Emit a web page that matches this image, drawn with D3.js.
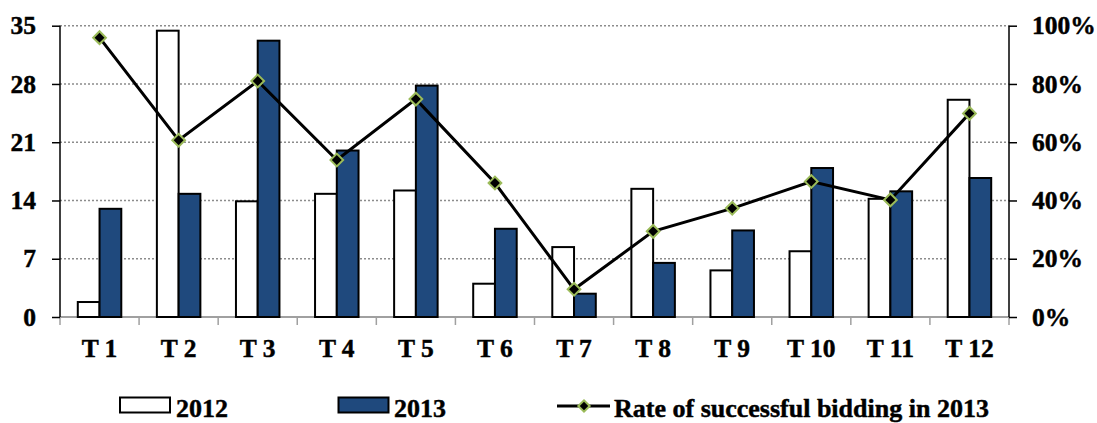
<!DOCTYPE html>
<html>
<head>
<meta charset="utf-8">
<script src="https://cdn.jsdelivr.net/npm/d3@7"></script>
<style>
  html, body { margin: 0; padding: 0; background: #fff; }
  svg { display: block; }
  text { font-family: "Liberation Serif", "Times New Roman", serif; font-weight: bold; fill: #000; stroke: #000; stroke-width: 0.45px; }
</style>
</head>
<body>
<svg id="chart" width="1097" height="423"></svg>
<script>
const categories = ["T 1","T 2","T 3","T 4","T 5","T 6","T 7","T 8","T 9","T 10","T 11","T 12"];
const values2012 = [1.8, 34.4, 13.9, 14.8, 15.2, 4.0, 8.4, 15.4, 5.6, 7.9, 14.2, 26.1];
const values2013 = [13.0, 14.8, 33.2, 20.0, 27.8, 10.6, 2.8, 6.5, 10.4, 17.9, 15.1, 16.7];
const rate2013 = [0.959, 0.607, 0.810, 0.539, 0.748, 0.460, 0.095, 0.294, 0.373, 0.465, 0.402, 0.699];
const leftTicks = [0, 7, 14, 21, 28, 35];
const rightTicks = [0, 0.2, 0.4, 0.6, 0.8, 1.0];
const seriesNames = ["2012", "2013", "Rate of successful bidding in 2013"];

const svg = d3.select("#chart");
const L = 60, R = 1009, T = 25.7, B = 317;
const blue = "#1F497D", green = "#9BBB59", gridCol = "#8c8c8c";

const x = d3.scaleBand().domain(categories).range([L, R]).padding(0);
const y = d3.scaleLinear().domain([0, 35]).range([B, T]);
const yR = d3.scaleLinear().domain([0, 1]).range([B, T]);
const bw = x.bandwidth() * 0.275;
const cx = c => x(c) + x.bandwidth() / 2;

// gridlines
svg.append("g").selectAll("line").data(leftTicks.filter(d => d > 0)).join("line")
  .attr("x1", L).attr("x2", R).attr("y1", d => y(d)).attr("y2", d => y(d))
  .attr("stroke", gridCol).attr("stroke-width", 1.5).attr("stroke-dasharray", "2,2");

// bottom axis (gray)
svg.append("line").attr("x1", L).attr("x2", R).attr("y1", B).attr("y2", B)
  .attr("stroke", "#a0a0a0").attr("stroke-width", 2);
svg.append("g").selectAll("line").data(categories.concat(["__end"])).join("line")
  .attr("x1", (d, i) => i < categories.length ? x(d) : R)
  .attr("x2", (d, i) => i < categories.length ? x(d) : R)
  .attr("y1", B).attr("y2", B + 8)
  .attr("stroke", "#a0a0a0").attr("stroke-width", 1.5);
svg.append("g").selectAll("text").data(categories).join("text")
  .attr("x", d => cx(d)).attr("y", 356.5).attr("text-anchor", "middle")
  .attr("font-size", 25.5).text(d => d);

// bars
svg.append("g").selectAll("rect").data(categories).join("rect")
  .attr("x", d => cx(d) - bw).attr("width", bw)
  .attr("y", (d, i) => y(values2012[i])).attr("height", (d, i) => B - y(values2012[i]))
  .attr("fill", "#fff").attr("stroke", "#000").attr("stroke-width", 2);
svg.append("g").selectAll("rect").data(categories).join("rect")
  .attr("x", d => cx(d)).attr("width", bw)
  .attr("y", (d, i) => y(values2013[i])).attr("height", (d, i) => B - y(values2013[i]))
  .attr("fill", blue).attr("stroke", "#000").attr("stroke-width", 2);

function styleTicks(g) {
  g.selectAll(".tick line").attr("stroke", "#000").attr("stroke-width", 1.5);
  g.selectAll(".tick text").attr("font-size", 25.5).attr("font-family", "Liberation Serif")
    .attr("font-weight", "bold").attr("fill", "#000").attr("stroke", "#000").attr("stroke-width", 0.45);
}
// left axis
const la = svg.append("g").attr("transform", `translate(${L},0)`)
  .call(d3.axisLeft(y).tickValues(leftTicks).tickSize(8).tickPadding(16).tickFormat(d3.format("d")));
la.select(".domain").attr("stroke", "#000").attr("stroke-width", 1.5).attr("d", `M0,${T}V${B}`);
styleTicks(la);

// right axis
const ra = svg.append("g").attr("transform", `translate(${R},0)`)
  .call(d3.axisRight(yR).tickValues(rightTicks).tickSize(8).tickPadding(15).tickFormat(d3.format(".0%")));
ra.select(".domain").attr("stroke", "#000").attr("stroke-width", 1.5).attr("d", `M0,${T}V${B}`);
styleTicks(ra);

// line
const line = d3.line().x((d, i) => cx(categories[i])).y(d => yR(d));
svg.append("path").datum(rate2013).attr("d", line)
  .attr("fill", "none").attr("stroke", "#000").attr("stroke-width", 3);
const diamond = d3.symbol().type(d3.symbolSquare).size(81);
svg.append("g").selectAll("path").data(rate2013).join("path")
  .attr("d", diamond)
  .attr("transform", (d, i) => `translate(${cx(categories[i])},${yR(d)}) rotate(45)`)
  .attr("fill", "#000").attr("stroke", green).attr("stroke-width", 2);

// legend
const lg = svg.append("g");
lg.append("rect").attr("x", 120).attr("y", 397.5).attr("width", 50).attr("height", 15)
  .attr("fill", "#fff").attr("stroke", "#000").attr("stroke-width", 2);
lg.append("text").attr("x", 176).attr("y", 417).attr("font-size", 26).text(seriesNames[0]);
lg.append("rect").attr("x", 338.5).attr("y", 397.5).attr("width", 50).attr("height", 15)
  .attr("fill", blue).attr("stroke", "#000").attr("stroke-width", 2);
lg.append("text").attr("x", 394).attr("y", 417).attr("font-size", 26).text(seriesNames[1]);
lg.append("line").attr("x1", 557).attr("x2", 610).attr("y1", 406).attr("y2", 406)
  .attr("stroke", "#000").attr("stroke-width", 3);
lg.append("path").attr("d", d3.symbol().type(d3.symbolSquare).size(64)).attr("transform", "translate(584,406) rotate(45)")
  .attr("fill", "#000").attr("stroke", green).attr("stroke-width", 2);
lg.append("text").attr("x", 614).attr("y", 417).attr("font-size", 26).text(seriesNames[2]);
</script>
</body>
</html>
